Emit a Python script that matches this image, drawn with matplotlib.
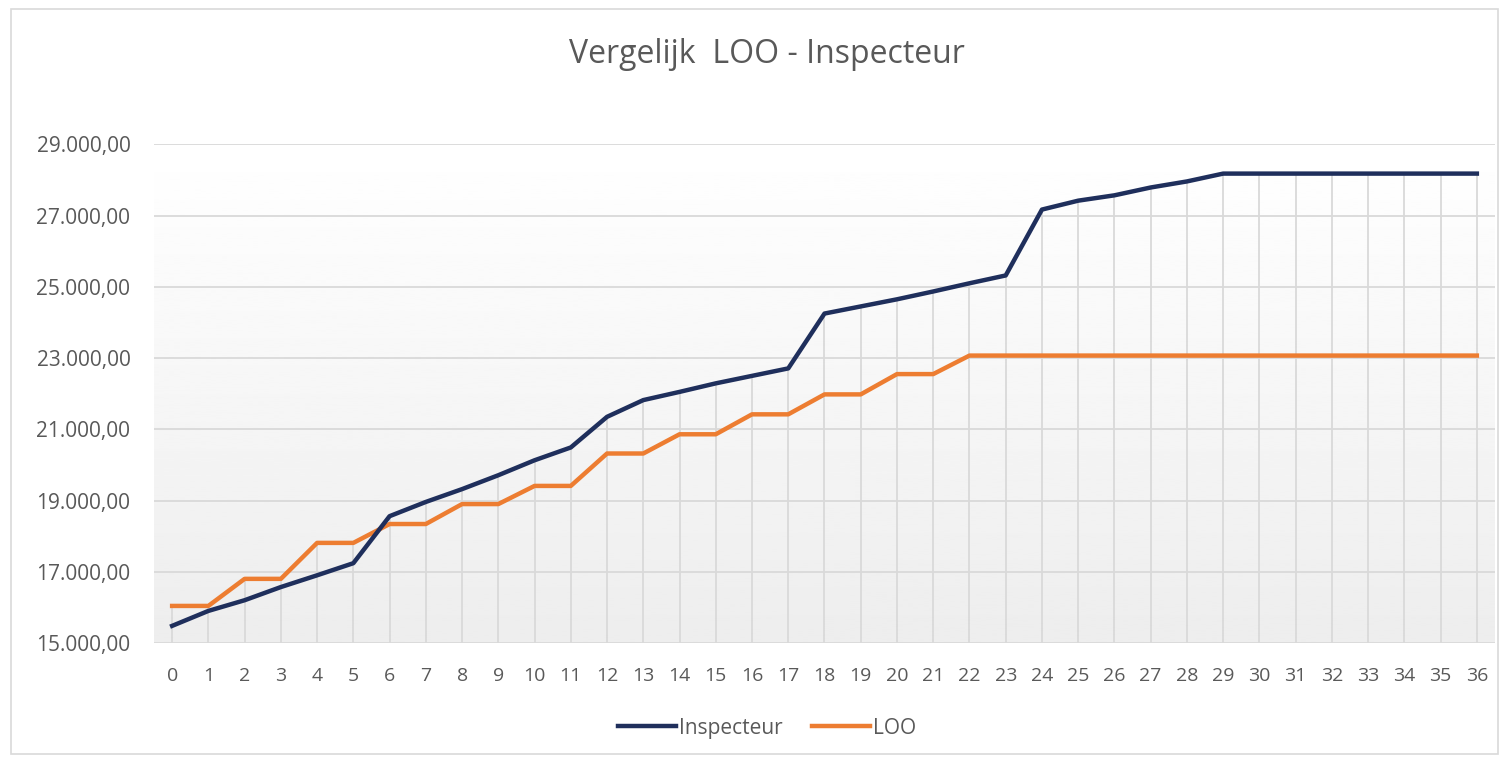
import numpy as np
import matplotlib.pyplot as plt
from matplotlib.ticker import FuncFormatter
from matplotlib.patches import Rectangle

plt.rcParams['font.family'] = ['Open Sans', 'DejaVu Sans']

# jaren (treden) en jaarsalarissen
jaren = list(range(0, 37))
inspecteur = [15480, 15900, 16200, 16570, 16900, 17240, 18560, 18960, 19320, 19710,
              20130, 20490, 21350, 21820, 22050, 22290, 22500, 22710, 24250, 24450,
              24650, 24870, 25100, 25320, 27170, 27420, 27570, 27790, 27960, 28180,
              28180, 28180, 28180, 28180, 28180, 28180, 28180]
loo = [16040, 16040, 16800, 16800, 17810, 17810, 18340, 18340, 18900, 18900,
       19410, 19410, 20320, 20320, 20860, 20860, 21420, 21420, 21980, 21980,
       22550, 22550, 23070, 23070, 23070, 23070, 23070, 23070, 23070, 23070,
       23070, 23070, 23070, 23070, 23070, 23070, 23070]
y_ticks = [15000, 17000, 19000, 21000, 23000, 25000, 27000, 29000]

grijs = '#595959'
fig = plt.figure(figsize=(15.04, 7.6), dpi=100)
ax = fig.add_axes([0.1024, 0.154, 0.8916, 0.656])

# achtergrond met verloop (wit boven, lichtgrijs onder)
grad = np.linspace(0.93, 1.0, 256).reshape(-1, 1)
ax.imshow(grad, extent=[-0.5, 36.5, 15000, 29000], origin='lower', aspect='auto',
          cmap='gray', vmin=0, vmax=1, zorder=0)

for t in y_ticks:
    ax.axhline(t, color='#d9d9d9', lw=1.3, zorder=1)

# vallijnen van het hoogste punt naar de as
top = np.maximum(inspecteur, loo)
ax.vlines(jaren, 15000, top, color='#d9d9d9', lw=1.3, zorder=1)

ax.plot(jaren, inspecteur, color='#1f2f5c', lw=3.2, label='Inspecteur', zorder=3,
        solid_joinstyle='round')
ax.plot(jaren, loo, color='#ed7d31', lw=3.2, label='LOO', zorder=2,
        solid_joinstyle='round')

ax.set_xlim(-0.5, 36.5)
ax.set_ylim(15000, 29000)
ax.set_xticks(jaren)
ax.set_yticks(y_ticks)
ax.yaxis.set_major_formatter(FuncFormatter(
    lambda v, p: f"{v:,.2f}".replace(',', 'X').replace('.', ',').replace('X', '.')))
ax.tick_params(length=0, colors=grijs)
ax.tick_params(axis='x', labelsize=14, pad=17)
ax.tick_params(axis='y', labelsize=15, pad=17)
for s in ax.spines.values():
    s.set_visible(False)

fig.text(0.51, 0.928, 'Vergelijk  LOO - Inspecteur', ha='center', va='center',
         fontsize=23, color=grijs)

leg = fig.legend(loc='center', bbox_to_anchor=(0.51, 0.042), ncol=2, frameon=False,
                 fontsize=15, handlelength=2.8, handletextpad=0.15, columnspacing=1.4)
for t in leg.get_texts():
    t.set_color(grijs)

fig.patches.append(Rectangle((0.007, 0.008), 0.989, 0.98, transform=fig.transFigure,
                             fill=False, edgecolor='#d9d9d9', lw=1.2))

fig.savefig('out.png', dpi=100)
